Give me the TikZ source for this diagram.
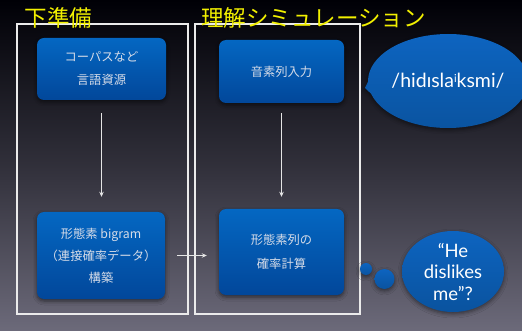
\documentclass[tikz,border=0pt]{standalone}
\usepackage{fontspec}
\newfontfamily\jp{Noto Sans CJK JP}
\newfontfamily\lat{Lato}
\usetikzlibrary{shapes.callouts,shapes.geometric,shadows.blur,arrows.meta}
\definecolor{ttl}{HTML}{F2F000}
\definecolor{boxtop}{HTML}{0467C2}
\definecolor{boxbot}{HTML}{02479A}
\definecolor{bubtop}{HTML}{0D64C0}
\definecolor{bubbot}{HTML}{0A539F}
\definecolor{btxt}{HTML}{D6DCE8}
\definecolor{bgtop}{HTML}{000006}
\definecolor{bgbot}{HTML}{6C6A7A}
\tikzset{
  ttlstyle/.style={text=ttl, font=\jp\fontsize{22.5}{24}\selectfont, inner sep=0pt},
  frame/.style={draw=white!92!black, line width=1.1pt},
  bluebox/.style={rounded corners=7pt, top color=boxtop, bottom color=boxbot, draw=none,
     text=btxt, align=center, inner sep=0pt, font=\jp\fontsize{12.3}{23}\selectfont,
     blur shadow={shadow xshift=0pt, shadow yshift=-2pt, shadow blur radius=4pt, shadow opacity=55}},
  arr/.style={draw=white!90!black, line width=0.8pt, -{Stealth[length=5pt,width=4.5pt]}},
  bub/.style={top color=bubtop, bottom color=bubbot, draw=none, text=white,
     blur shadow={shadow xshift=0pt, shadow yshift=-2pt, shadow blur radius=4pt, shadow opacity=50}},
}
\begin{document}
\begin{tikzpicture}[x=1pt,y=-1pt]
\useasboundingbox (0,0) rectangle (522,331);
\fill[top color=bgtop, bottom color=bgbot, middle color=bgtop!55!bgbot] (0,0) rectangle (522,331);
% frames
\draw[frame] (17,24) rectangle (188,314);
\draw[frame] (195,24) rectangle (360,314);
% titles
\node[ttlstyle] (t1) at (58.5,18) {下準備};
\node[ttlstyle] (t2) at (313.5,18) {理解シミュレーション};
% boxes
\node[bluebox, minimum width=129pt, minimum height=62pt] (b1) at (101.5,69) {コーパスなど\\言語資源};
\node[bluebox, minimum width=125pt, minimum height=63pt] (b2) at (281.5,71.5) {音素列入力};
\node[bluebox, minimum width=128pt, minimum height=87pt, font=\jp\fontsize{12.3}{22}\selectfont] (b3) at (101,255.5) {形態素 bigram\\（連接確率データ）\\構築};
\node[bluebox, minimum width=125pt, minimum height=86pt, font=\jp\fontsize{12.3}{24}\selectfont] (b4) at (281.5,252) {形態素列の\\確率計算};
% arrows
\draw[arr, shorten <=13pt, shorten >=15pt] (b1.south) -- (b1.south |- b3.north);
\draw[arr, shorten <=10pt, shorten >=12pt] (b2.south) -- (b2.south |- b4.north);
\draw[arr, shorten <=12pt, shorten >=12pt] (b3.east) -- (b3.east -| b4.west);
% speech bubble
\node[bub, ellipse callout, minimum width=146pt, minimum height=94pt, inner sep=0pt,
  callout absolute pointer={(365,88)}, font=\lat\fontsize{19.5}{22}\selectfont] (sp) at (448,81)
  {/hidɪsla\raisebox{0.55ex}{\fontsize{11}{11}\selectfont i}ksmi/};
% thought bubble
\node[bub, circle, minimum size=12pt, inner sep=0pt] (c1) at (366,269) {};
\node[bub, circle, minimum size=20pt, inner sep=0pt] (c2) at (384.5,279) {};
\node[bub, ellipse, minimum width=102pt, minimum height=77pt, inner sep=0pt, align=center,
  font=\lat\fontsize{18.5}{21.5}\selectfont] (th) at (453,271.5) {“He\\dislikes\\me”?};
\end{tikzpicture}
\end{document}
